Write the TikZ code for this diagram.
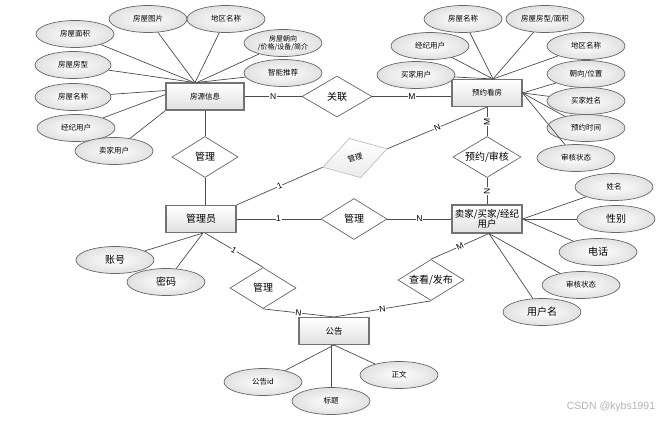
\documentclass[tikz,border=0pt]{standalone}
\usepackage{fontspec}
\newfontfamily\cjk{Noto Sans CJK SC}
\newfontfamily\lat{Liberation Sans}
\usetikzlibrary{shapes.geometric,positioning}
\newcommand{\smallcjk}{\cjk\fontsize{7.5}{9}\selectfont}
\newcommand{\bigcjk}{\cjk\fontsize{10}{11}\selectfont}

\begin{document}
\begin{tikzpicture}[x=1pt, y=-1pt, font=\smallcjk, line width=0.7pt,
    entity/.style={draw=black!55, line width=1.1pt, top color=white, bottom color=black!12, minimum width=70pt, minimum height=27pt, inner sep=1pt, align=center},
    attrib/.style={draw=black!60, ellipse, inner color=white, outer color=black!12, minimum width=78pt, minimum height=27pt, inner sep=0pt, align=center},
    relation/.style={draw=black!60, diamond, fill=white, aspect=1.65, minimum width=66pt, minimum height=41pt, inner sep=0pt, font=\bigcjk},
    card/.style={font=\lat\fontsize{8.5}{9}\selectfont, fill=white, inner sep=0.6pt},
    link/.style={draw=black!70}]
    \useasboundingbox (0,0) rectangle (672,421);
    \node[entity, minimum width=78pt] (fy) at (205,96.5) {房源信息};
    \node[entity] (yy) at (487,93) {预约看房};
    \node[entity, font=\bigcjk] (gly) at (201,219) {管理员};
    \node[entity, minimum height=28pt, font=\cjk\fontsize{9.5}{10.5}\selectfont] (yh) at (487,219) {卖家/买家/经纪\\用户};
    \node[entity, font=\cjk\fontsize{8.5}{9}\selectfont] (gg) at (334,331) {公告};

    \node[relation, minimum width=70pt] (gl1) at (337,96.5) {关联};
    \node[relation] (gl2) at (205,157) {管理};
    \node[relation, rotate=16, draw=black!25, top color=white, bottom color=black!8, minimum width=67pt, font=\smallcjk] (gl3) at (355,158) {管理};
    \node[relation, minimum width=68pt] (yysh) at (487,157) {预约/审核};
    \node[relation] (gl4) at (354,219) {管理};
    \node[relation] (gl5) at (263,288) {管理};
    \node[relation] (ckfb) at (431,280) {查看/发布};

    \node[attrib] (a1) at (75,34) {房屋面积};
    \node[attrib, minimum width=76pt] (a2) at (73,65) {房屋房型};
    \node[attrib, minimum width=76pt] (a3) at (73,97) {房屋名称};
    \node[attrib] (a4) at (76,128) {经纪用户};
    \node[attrib] (a5) at (114,151) {卖家用户};
    \node[attrib] (a6) at (148,19) {房屋图片};
    \node[attrib] (a7) at (226,19) {地区名称};
    \node[attrib, font=\cjk\fontsize{7}{8.5}\selectfont] (a8) at (283,43) {房屋朝向\\/价格/设备/简介};
    \node[attrib] (a9) at (283,73) {智能推荐};

    \node[attrib] (b1) at (463,19) {房屋名称};
    \node[attrib] (b2) at (545,19) {房屋房型/面积};
    \node[attrib] (b3) at (430,46) {经纪用户};
    \node[attrib] (b4) at (416,75) {买家用户};
    \node[attrib] (b5) at (586,46) {地区名称};
    \node[attrib] (b6) at (586,74) {朝向/位置};
    \node[attrib] (b7) at (586,101) {买家姓名};
    \node[attrib] (b8) at (586,128) {预约时间};
    \node[attrib] (b9) at (576,158) {审核状态};

    \node[attrib, font=\bigcjk] (c1) at (115,260) {账号};
    \node[attrib, font=\bigcjk] (c2) at (166,282) {密码};

    \node[attrib] (d1) at (614,187) {姓名};
    \node[attrib, font=\bigcjk] (d2) at (616,219) {性别};
    \node[attrib, font=\bigcjk] (d3) at (598,252) {电话};
    \node[attrib] (d4) at (581,285) {审核状态};
    \node[attrib, font=\bigcjk] (d5) at (542,312) {用户名};

    \node[attrib] (e1) at (263,382) {公告id};
    \node[attrib] (e2) at (331,401) {标题};
    \node[attrib] (e3) at (399,375) {正文};

    \node[font=\lat\fontsize{10.5}{11}\selectfont, text=black!30] (wm) at (611,407) {CSDN @kybs1991};

    \path (a1) edge[link] ([xshift=-11pt]fy.north);
    \path (a2) edge[link] ([xshift=-11pt]fy.north);
    \path (a6) edge[link] ([xshift=-10pt]fy.north);
    \path (a7) edge[link] ([xshift=-10pt]fy.north);
    \path (a8) edge[link] ([xshift=-8pt]fy.north);
    \path (a9) edge[link] ([xshift=-8pt]fy.north);
    \path (a3) edge[link] ([yshift=6pt]fy.west);
    \path (a4) edge[link] ([yshift=2pt]fy.west);
    \path (a5) edge[link] (fy.south west);

    \path (b1) edge[link] ([xshift=6pt]yy.north);
    \path (b2) edge[link] ([xshift=6pt]yy.north);
    \path (b3) edge[link] ([xshift=6pt]yy.north);
    \path (b4) edge[link] ([xshift=6pt]yy.north);
    \path (b5) edge[link] ([xshift=6pt]yy.north);
    \path (b6) edge[link] (yy.east);
    \path (b7) edge[link] (yy.east);
    \path (b8) edge[link] (yy.east);
    \path (b9) edge[link] (yy.east);

    \path (c1) edge[link] ([xshift=2pt]gly.south);
    \path (c2) edge[link] ([xshift=2pt]gly.south);

    \path (d1) edge[link] (yh.east);
    \path (d2) edge[link] (yh.east);
    \path (d3) edge[link] (yh.east);
    \path (d4) edge[link] ([xshift=2pt]yh.south);
    \path (d5) edge[link] ([xshift=2pt]yh.south);

    \path (e1) edge[link] (gg.south);
    \path (e2) edge[link] (e2 |- gg.south);
    \path (e3) edge[link] (gg.south);

    \path (fy) edge[link] node[card] {N} (gl1);
    \path (gl1) edge[link] node[card] {M} (gl1 -| yy.west);
    \path (fy) edge[link] (gl2);
    \path (gl2.south) edge[link] (gl2.south |- gly.north);
    \path (gly.north east) edge[link] node[card, sloped] {1} (gl3.west);
    \path (gl3.east) edge[link] node[card, sloped] {N} (yy.south);
    \path (yy) edge[link] node[card, rotate=90] {M} (yysh);
    \path (yysh) edge[link] node[card, rotate=90] {N} (yh);
    \path (gly) edge[link] node[card] {1} (gl4);
    \path (gl4) edge[link] node[card] {N} (yh);
    \path ([xshift=4pt]gly.south) edge[link] node[card, sloped] {1} (gl5.north);
    \path (gl5.south) edge[link] node[card, sloped] {N} (gg.north);
    \path ([xshift=2pt]yh.south) edge[link] node[card, sloped] {M} (ckfb.north);
    \path (ckfb.south) edge[link] node[card, sloped] {N} (gg.north);
\end{tikzpicture}
\end{document}
